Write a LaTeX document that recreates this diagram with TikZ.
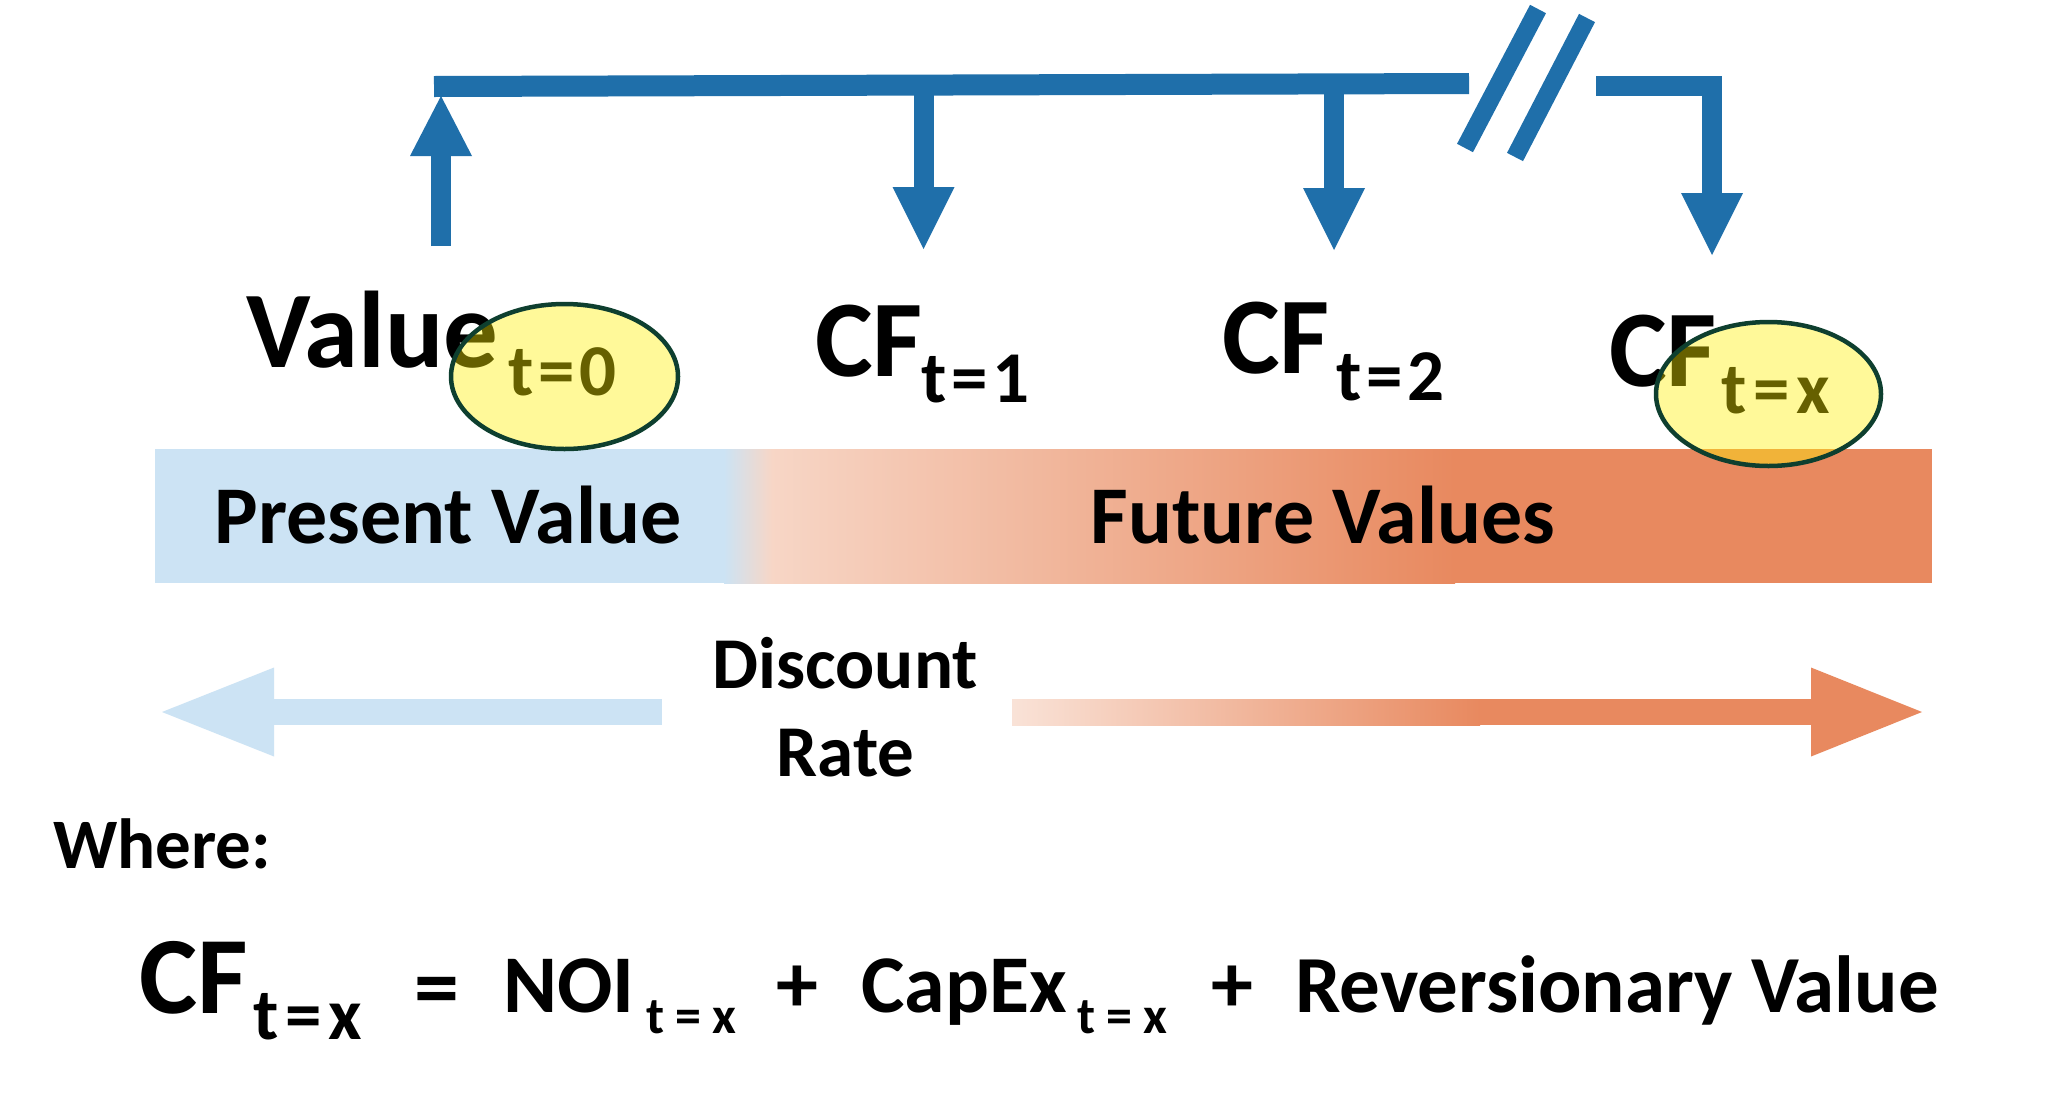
\documentclass[tikz,border=0pt]{standalone}
\usepackage{fontspec}
\setmainfont{Carlito}
\usetikzlibrary{calc,shapes.geometric}
\definecolor{cfblue}{HTML}{1F6FAA}
\definecolor{pvblue}{HTML}{CCE3F4}
\definecolor{peach}{HTML}{F7D6C6}
\definecolor{fvorange}{HTML}{E8895F}
\definecolor{ringgreen}{HTML}{0E3F2F}
\tikzset{
  lbl/.style={anchor=base west, inner sep=0pt, text=black, font=\bfseries},
  shaft/.style={draw=cfblue, line width=20pt},
  hilite/.style={ellipse, inner sep=0pt, fill=yellow, fill opacity=0.4, draw=ringgreen, draw opacity=1, line width=4.5pt},
}
\newcommand{\fs}[1]{\fontsize{#1}{#1}\selectfont}
\newcommand{\headdown}[1]{\fill[cfblue] ($(#1)+(-31,0)$) -- ($(#1)+(31,0)$) -- ($(#1)+(0,62)$) -- cycle;}
\begin{document}
\begin{tikzpicture}[x=1pt,y=-1pt]
\useasboundingbox (0,0) rectangle (2071,1109);
\fill[white] (0,0) rectangle (2071,1109);

% ---- colour band ----
\fill[fvorange] (724,449) rectangle (1932,583);
\fill[pvblue] (155,449) rectangle (726,583);
\fill[left color=peach, right color=fvorange, draw=none] (770,449) rectangle (1455,583);
\fill[left color=pvblue, right color=peach, draw=none] (724,449) rectangle (772,583);
\node[lbl, anchor=base] (pv) at (448,543) {\fs{82}Present Value};
\node[lbl, anchor=base] (fv) at (1323,543) {\fs{82}Future Values};

% ---- timeline ----
\coordinate (barL) at (434,86.5);
\coordinate (barR) at (1469,83.5);
\draw[draw=cfblue, line width=21pt] (barL) -- (barR);
\coordinate (brkA1) at (1538,9);
\coordinate (brkA2) at (1465,148);
\coordinate (brkB1) at (1587,18);
\coordinate (brkB2) at (1515,157);
\draw[draw=cfblue, line width=18pt] (brkA1) -- (brkA2);
\draw[draw=cfblue, line width=18pt] (brkB1) -- (brkB2);
\coordinate (endL) at (1596,85.5);
\coordinate (endC) at (1712,85.5);
\coordinate (endB) at (1712,193);
\draw[shaft, line join=miter] (endL) -- (endC) -- (endB);
\headdown{endB}

% up arrow at t=0
\coordinate (upS) at (441,246);
\coordinate (upB) at (441,156);
\draw[shaft] (upS) -- (upB);
\fill[cfblue] ($(upB)+(-31,0)$) -- ($(upB)+(31,0)$) -- (441,96) -- cycle;

% down arrows
\coordinate (d1T) at (923.5,85);
\coordinate (d1B) at (923.5,187);
\draw[shaft] (d1T) -- (d1B);
\headdown{d1B}
\coordinate (d2T) at (1334,84);
\coordinate (d2B) at (1334,188);
\draw[shaft] (d2T) -- (d2B);
\headdown{d2B}

% ---- labels ----
\node[lbl] (val) at (246,367) {\fs{109}Value};
\node[lbl] (val0) at (508,395) {\fs{73}t\kern5pt=\kern5pt0};
\node[lbl] (cf1) at (815,376) {\fs{109}CF};
\node[lbl] (cf1s) at (921,402) {\fs{73}t\kern5pt=\kern5pt1};
\node[lbl] (cf2) at (1222,373) {\fs{109}CF};
\node[lbl] (cf2s) at (1336,400) {\fs{73}t\kern5pt=\kern5pt2};
\node[lbl] (cfx) at (1609,386) {\fs{109}CF};
\node[lbl] (cfxs) at (1721,413) {\fs{73}t\kern7pt=\kern7pt x};
\node[hilite, minimum width=227pt, minimum height=145pt] (ring0) at (564.5,376.5) {};
\node[hilite, minimum width=225pt, minimum height=144pt] (ringx) at (1768.5,394) {};

% ---- discount rate arrows ----
\coordinate (laS) at (662,712);
\coordinate (laB) at (274,712);
\coordinate (laT) at (162,712);
\fill[pvblue] ($(laS)+(0,-13)$) rectangle ($(laB)+(-1,13)$);
\fill[pvblue] ($(laB)+(0,-44.5)$) -- ($(laB)+(0,44.5)$) -- (laT) -- cycle;
\coordinate (raS) at (1012,712);
\coordinate (raM) at (1480,712);
\coordinate (raB) at (1811,712);
\coordinate (raT) at (1922,712);
\fill[fvorange] ($(raS)+(10,-13)$) rectangle ($(raB)+(1,13)$);
\fill[left color=peach!70!white, right color=fvorange] ($(raS)+(0,-13)$) rectangle ($(raM)+(0,13)$);
\fill[fvorange] ($(raB)+(0,-44.5)$) -- ($(raB)+(0,44.5)$) -- (raT) -- cycle;
\node[lbl, anchor=base] (disc) at (845,688) {\fs{73}Discount};
\node[lbl, anchor=base] (rate) at (845.5,776) {\fs{73}Rate};

% ---- formula ----
\node[lbl] (where) at (53,868) {\fs{71}Where:};
\node[lbl] (fcf) at (139,1013) {\fs{110}CF};
\node[lbl] (fcfs) at (253,1039) {\fs{73}t\kern7pt=\kern7pt x};
\node[lbl] (feq) at (414,1017) {\fs{90}=};
\node[lbl] (fnoi) at (503,1012) {\fs{82}NOI};
\node[lbl] (fnois) at (646,1033) {\fs{52}t\kern11pt=\kern11pt x};
\node[lbl] (fp1) at (776,1012) {\fs{84}+};
\node[lbl] (fcap) at (861,1012) {\fs{82}CapEx};
\node[lbl] (fcaps) at (1077,1033) {\fs{52}t\kern11pt=\kern11pt x};
\node[lbl] (fp2) at (1211,1012) {\fs{84}+};
\node[lbl] (frev) at (1295,1012) {\fs{81}Reversionary Value};
\end{tikzpicture}
\end{document}
